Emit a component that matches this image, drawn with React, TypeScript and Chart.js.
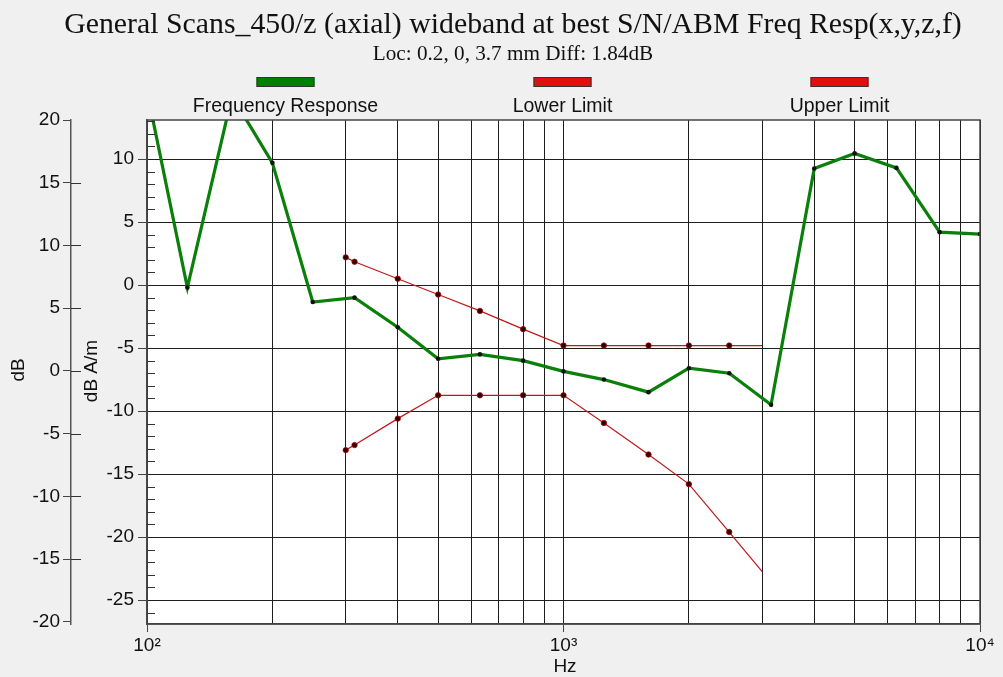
import React, { useEffect, useRef } from "react";
import { Chart, registerables } from "chart.js";

Chart.register(...registerables);

// ---------------- data ----------------
const responseFreqs = [100, 125, 160, 200, 250, 315, 400, 500, 630, 800, 1000, 1250, 1600, 2000, 2500, 3150, 4000, 5000, 6300, 8000, 10000];
const responseDb = [15.4, -0.2, 15.0, 9.7, -1.35, -1.0, -3.35, -5.85, -5.5, -6.0, -6.85, -7.5, -8.5, -6.6, -7.0, -9.5, 9.25, 10.45, 9.3, 4.2, 4.05];

const limitFreqs = [300, 315, 400, 500, 630, 800, 1000, 1250, 1600, 2000, 2500, 3000];
const upperLimitDb = [2.2, 1.85, 0.5, -0.75, -2.05, -3.5, -4.8, -4.8, -4.8, -4.8, -4.8, -4.8];
const lowerLimitDb = [-13.1, -12.7, -10.6, -8.75, -8.75, -8.75, -8.75, -10.95, -13.45, -15.8, -19.6, -22.75];

const xGridValues = [100, 200, 300, 400, 500, 600, 700, 800, 900, 1000, 2000, 3000, 4000, 5000, 6000, 7000, 8000, 9000, 10000];
const xTickLabels: Record<number, string> = { 100: "10\u00B2", 1000: "10\u00B3", 10000: "10\u2074" };
const innerTickValues = [-26, -25, -24, -23, -22, -21, -20, -19, -18, -17, -16, -15, -14, -13, -12, -11, -10, -9, -8, -7, -6, -5, -4, -3, -2, -1, 0, 1, 2, 3, 4, 5, 6, 7, 8, 9, 10, 11, 12, 13];
const outerTickValues = [-20, -15, -10, -5, 0, 5, 10, 15, 20];

const titleText = "General Scans_450/z (axial) wideband at best S/N/ABM Freq Resp(x,y,z,f)";
const subtitleText = "Loc: 0.2, 0, 3.7 mm Diff: 1.84dB";
const legendItems = [
  { label: "Frequency Response", color: "#008000" },
  { label: "Lower Limit", color: "#e01010" },
  { label: "Upper Limit", color: "#e01010" },
];

const SANS = '"Liberation Sans", Arial, sans-serif';
const SERIF = '"Liberation Serif", "Times New Roman", serif';
const GRID = "#1e1e1e";

const isMajor5 = (v: number) => Math.abs(v % 5) < 1e-9;

const decorPlugin = {
  id: "decor",
  beforeDraw(chart: any) {
    const { ctx, width, height, chartArea: a } = chart;
    ctx.save();
    ctx.fillStyle = "#f0f0f0";
    ctx.fillRect(0, 0, width, height);
    ctx.fillStyle = "#ffffff";
    ctx.fillRect(a.left, a.top, a.right - a.left, a.bottom - a.top);
    ctx.restore();
  },
  afterDraw(chart: any) {
    const { ctx, chartArea: a, scales } = chart;
    ctx.save();
    // plot border
    ctx.strokeStyle = "#444";
    ctx.lineWidth = 1.5;
    ctx.strokeRect(a.left, a.top, a.right - a.left, a.bottom - a.top);

    // inner minor ticks (inside plot)
    ctx.strokeStyle = "#333";
    ctx.lineWidth = 1;
    for (const v of innerTickValues) {
      if (isMajor5(v)) continue;
      const y = Math.round(scales.y.getPixelForValue(v)) + 0.5;
      ctx.beginPath();
      ctx.moveTo(a.left, y);
      ctx.lineTo(a.left + 8, y);
      ctx.stroke();
    }
    // outer axis ticks crossing the axis line
    const ox = scales.y2.right;
    for (const v of outerTickValues) {
      if (v === 20 || v === -20) continue;
      const y = Math.round(scales.y2.getPixelForValue(v)) + 0.5;
      ctx.beginPath();
      ctx.moveTo(ox, y);
      ctx.lineTo(ox + 10, y);
      ctx.stroke();
    }

    // title + subtitle
    ctx.fillStyle = "#111";
    ctx.textAlign = "center";
    ctx.textBaseline = "alphabetic";
    ctx.font = `29.8px ${SERIF}`;
    ctx.fillText(titleText, 513, 33);
    ctx.font = `21.2px ${SERIF}`;
    ctx.fillText(subtitleText, 513, 60);

    // legend
    const centers = [285.5, 562.5, 839.5];
    legendItems.forEach((it, i) => {
      const cx = centers[i];
      ctx.fillStyle = it.color;
      ctx.fillRect(cx - 29, 77, 58, 10);
      ctx.strokeStyle = "#333";
      ctx.lineWidth = 1;
      ctx.strokeRect(cx - 29 + 0.5, 77.5, 57, 9);
      ctx.fillStyle = "#111";
      ctx.font = `19.5px ${SANS}`;
      ctx.textAlign = "center";
      ctx.fillText(it.label, cx, 111.5);
    });

    // axis titles
    ctx.font = `19px ${SANS}`;
    ctx.fillStyle = "#111";
    ctx.textBaseline = "middle";
    ctx.save();
    ctx.translate(18.5, 370);
    ctx.rotate(-Math.PI / 2);
    ctx.fillText("dB", 0, 0);
    ctx.restore();
    ctx.save();
    ctx.translate(92, 371);
    ctx.rotate(-Math.PI / 2);
    ctx.fillText("dB A/m", 0, 0);
    ctx.restore();
    ctx.fillText("Hz", 565, 667);
    ctx.restore();
  },
};

export default function App() {
  const ref = useRef<HTMLCanvasElement | null>(null);

  useEffect(() => {
    if (!ref.current) return;
    const chart = new Chart(ref.current, {
      type: "line",
      data: {
        datasets: [
          {
            label: "Frequency Response",
            data: responseFreqs.map((f, i) => ({ x: f, y: responseDb[i] })),
            borderColor: "#0a7f0a",
            borderWidth: 3.2,
            pointRadius: 2.3,
            pointBackgroundColor: "#111",
            pointBorderWidth: 0,
            tension: 0,
            clip: 0 as any,
            order: 0,
          },
          {
            label: "Lower Limit",
            data: limitFreqs.map((f, i) => ({ x: f, y: lowerLimitDb[i] })),
            borderColor: "#c01818",
            borderWidth: 1.2,
            pointRadius: (c: any) => (c.dataIndex === limitFreqs.length - 1 ? 0 : 2.7),
            pointBackgroundColor: "#300000",
            pointBorderColor: "#b00000",
            pointBorderWidth: 0.8,
            tension: 0,
            clip: 0 as any,
            order: 1,
          },
          {
            label: "Upper Limit",
            data: limitFreqs.map((f, i) => ({ x: f, y: upperLimitDb[i] })),
            borderColor: "#c01818",
            borderWidth: 1.2,
            pointRadius: (c: any) => (c.dataIndex === limitFreqs.length - 1 ? 0 : 2.7),
            pointBackgroundColor: "#300000",
            pointBorderColor: "#b00000",
            pointBorderWidth: 0.8,
            tension: 0,
            clip: 0 as any,
            order: 1,
          },
        ],
      },
      options: {
        responsive: false,
        animation: false,
        events: [],
        layout: { padding: { top: 120, right: 23, bottom: 0, left: 0 } },
        plugins: {
          legend: { display: false },
          title: { display: false },
          tooltip: { enabled: false },
        },
        scales: {
          x: {
            type: "logarithmic",
            min: 100,
            max: 10000,
            afterBuildTicks: (s: any) => {
              s.ticks = xGridValues.map((v) => ({ value: v }));
            },
            afterFit: (s: any) => {
              s.height = 53;
            },
            ticks: {
              autoSkip: false,
              maxRotation: 0,
              minRotation: 0,
              padding: 2,
              color: "#111",
              font: { family: SANS, size: 19 },
              callback: (v: any) => xTickLabels[Number(v)] ?? "",
            },
            grid: {
              color: GRID,
              lineWidth: 1,
              tickLength: 8,
              tickColor: (c: any) => (xTickLabels[c.tick?.value] ? "#444" : "rgba(0,0,0,0)"),
            },
            border: { display: true, color: "#444", width: 1.5 },
          },
          y: {
            type: "linear",
            position: "left",
            weight: 0,
            min: -26.9,
            max: 13.1,
            afterBuildTicks: (s: any) => {
              s.ticks = innerTickValues.map((v) => ({ value: v }));
            },
            afterFit: (s: any) => {
              s.width = 76;
            },
            ticks: {
              autoSkip: false,
              padding: 4,
              color: "#111",
              font: { family: SANS, size: 19 },
              callback: (v: any) => (isMajor5(Number(v)) ? String(v) : ""),
            },
            grid: {
              color: (c: any) => (isMajor5(c.tick?.value ?? 1) ? GRID : "rgba(0,0,0,0)"),
              lineWidth: 1,
              tickLength: 9,
              tickColor: (c: any) => (isMajor5(c.tick?.value ?? 1) ? "#444" : "rgba(0,0,0,0)"),
            },
            border: { display: true, color: "#555", width: 1.5 },
          },
          y2: {
            type: "linear",
            position: "left",
            weight: 1,
            min: -20.16,
            max: 20,
            afterBuildTicks: (s: any) => {
              s.ticks = outerTickValues.map((v) => ({ value: v }));
            },
            afterFit: (s: any) => {
              s.width = 71;
            },
            ticks: {
              autoSkip: false,
              padding: 3,
              color: "#111",
              font: { family: SANS, size: 19 },
            },
            grid: {
              drawOnChartArea: false,
              tickLength: 8,
              tickColor: "#444",
            },
            border: { display: true, color: "#555", width: 1.5 },
          },
        },
      } as any,
      plugins: [decorPlugin],
    });
    return () => chart.destroy();
  }, []);

  return (
    <div style={{ position: "absolute", left: 0, top: 0, width: 1003, height: 677, background: "#f0f0f0" }}>
      <canvas ref={ref} width={1003} height={677} style={{ display: "block" }} />
    </div>
  );
}
